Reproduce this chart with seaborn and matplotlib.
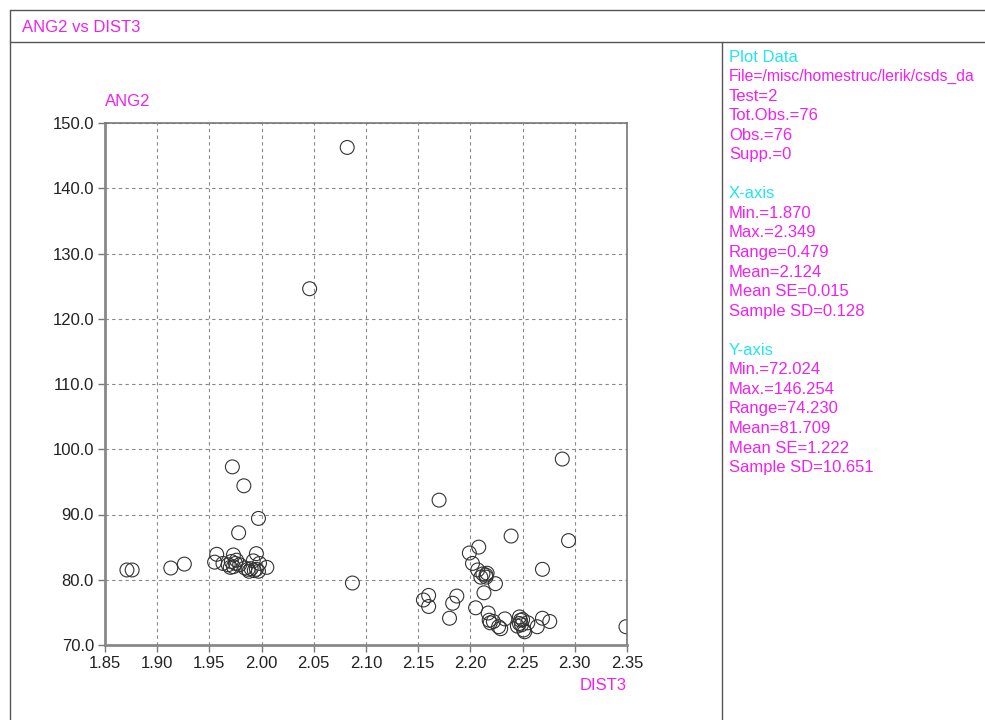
import matplotlib
matplotlib.use("Agg")
import matplotlib.pyplot as plt
import seaborn as sns
import pandas as pd
from matplotlib.lines import Line2D

# ---- data ----
dist3 = [1.871, 1.876, 1.913, 1.926, 1.972, 1.983, 1.997, 1.978, 1.957, 1.973,
         1.995, 1.955, 1.963, 1.968, 1.971, 1.973, 1.975, 1.979, 1.984, 1.987,
         1.990, 1.993, 1.995, 1.997, 1.998, 2.005, 1.976, 1.992, 1.970, 1.988,
         2.082, 2.046, 2.087,
         2.288, 2.170, 2.239, 2.294, 2.208, 2.199, 2.269, 2.202, 2.207, 2.215,
         2.210, 2.215, 2.224, 2.213, 2.155, 2.160, 2.160, 2.187, 2.183, 2.180,
         2.205, 2.217, 2.218, 2.219, 2.227, 2.229, 2.233, 2.247, 2.248, 2.247,
         2.249, 2.251, 2.255, 2.264, 2.269, 2.276, 2.349, 2.252, 2.212, 2.250,
         2.245, 2.216, 2.222]
ang2 = [81.5, 81.5, 81.8, 82.4, 97.3, 94.4, 89.4, 87.2, 83.9, 83.8,
        84.0, 82.7, 82.5, 82.3, 82.8, 82.0, 82.5, 82.3, 81.8, 81.6,
        81.7, 81.4, 81.6, 81.3, 82.5, 81.9, 83.0, 82.9, 81.9, 81.3,
        146.254, 124.6, 79.5,
        98.5, 92.2, 86.7, 86.0, 85.0, 84.1, 81.6, 82.5, 81.5, 80.7,
        80.4, 80.4, 79.4, 78.0, 76.9, 77.6, 75.9, 77.5, 76.4, 74.1,
        75.7, 74.9, 73.8, 73.4, 72.8, 72.5, 74.0, 74.3, 73.8, 73.3,
        73.1, 72.3, 73.4, 72.8, 74.1, 73.6, 72.8, 72.024, 80.9, 73.9,
        72.9, 81.0, 73.6]

x_ticks = [1.85, 1.90, 1.95, 2.00, 2.05, 2.10, 2.15, 2.20, 2.25, 2.30, 2.35]
y_ticks = [70.0, 80.0, 90.0, 100.0, 110.0, 120.0, 130.0, 140.0, 150.0]

title = "ANG2 vs DIST3"
info_lines = [
    ("Plot Data", "c"), ("File=/misc/homestruc/lerik/csds_da", "m"),
    ("Test=2", "m"), ("Tot.Obs.=76", "m"), ("Obs.=76", "m"), ("Supp.=0", "m"),
    ("", "m"),
    ("X-axis", "c"), ("Min.=1.870", "m"), ("Max.=2.349", "m"), ("Range=0.479", "m"),
    ("Mean=2.124", "m"), ("Mean SE=0.015", "m"), ("Sample SD=0.128", "m"),
    ("", "m"),
    ("Y-axis", "c"), ("Min.=72.024", "m"), ("Max.=146.254", "m"), ("Range=74.230", "m"),
    ("Mean=81.709", "m"), ("Mean SE=1.222", "m"), ("Sample SD=10.651", "m"),
]

MAG = "#ee22ee"
CYA = "#22e6ee"
FS = 12

sns.set_theme(style="white")
plt.rcParams["font.family"] = ["Liberation Sans", "DejaVu Sans"]

W, H = 985, 720
fig = plt.figure(figsize=(W / 100, H / 100), dpi=100)

def fx(px):
    return px / W

def fy(py):
    return 1 - py / H

# frame lines
for (x0, y0, x1, y1) in [(10, 10, 985, 10), (10, 42, 985, 42), (10, 10, 10, 720),
                         (722, 42, 722, 720)]:
    fig.add_artist(Line2D([fx(x0), fx(x1)], [fy(y0), fy(y1)], color="#555555", lw=1.0))

fig.text(fx(22), fy(28), title, color=MAG, fontsize=FS, va="center", ha="left")

y0 = 57
for txt, c in info_lines:
    if txt:
        size = 11.3 if txt.startswith("File=") else FS
        fig.text(fx(729), fy(y0), txt, color=CYA if c == "c" else MAG,
                 fontsize=size, va="center", ha="left")
    y0 += 19.55

ax = fig.add_axes([fx(105), fy(645), fx(627) - fx(105), fy(123) - fy(645)])
df = pd.DataFrame({"DIST3": dist3, "ANG2": ang2})
sns.scatterplot(data=df, x="DIST3", y="ANG2", ax=ax, s=100, marker="o",
                edgecolor="#333333", linewidth=0.8, legend=False)
ax.collections[0].set_facecolor("none")

ax.set_xlim(1.85, 2.35)
ax.set_ylim(70, 150)
ax.set_xticks(x_ticks)
ax.set_xticklabels([f"{v:.2f}" for v in x_ticks])
ax.set_yticks(y_ticks)
ax.set_yticklabels([f"{v:.1f}" for v in y_ticks])
ax.grid(True, color="#888888", linestyle=(0, (3, 3)), linewidth=0.8)
ax.tick_params(axis="both", which="both", direction="out", length=5, width=1,
               color="#777777", labelsize=FS, labelcolor="#222222", pad=3,
               left=True, bottom=True)
for side in ["left", "bottom"]:
    ax.spines[side].set_color("#888888")
    ax.spines[side].set_linewidth(2)
for side in ["top", "right"]:
    ax.spines[side].set_color("#777777")
    ax.spines[side].set_linewidth(1.2)
ax.set_xlabel("")
ax.set_ylabel("")

fig.text(fx(105), fy(101), "ANG2", color=MAG, fontsize=FS, va="center", ha="left")
fig.text(fx(627), fy(686), "DIST3", color=MAG, fontsize=FS, va="center", ha="right")

fig.savefig("out.png", dpi=100, facecolor="white")
